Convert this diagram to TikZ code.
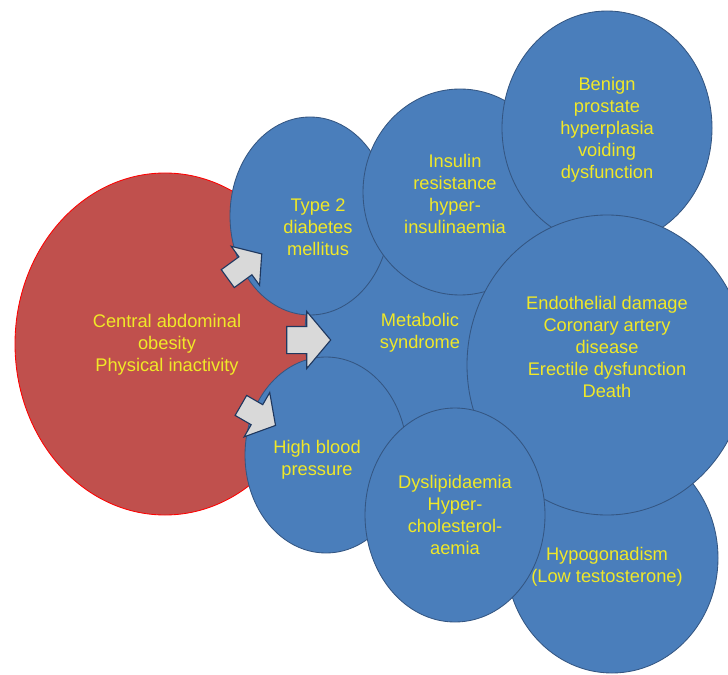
\documentclass[tikz,border=0pt]{standalone}
\usepackage{fontspec}
\setmainfont{Liberation Sans}
\usetikzlibrary{shapes.geometric, shapes.arrows}
\definecolor{bubblefill}{RGB}{74,126,187}
\definecolor{bubbleline}{RGB}{52,86,130}
\definecolor{riskfill}{RGB}{192,80,77}
\definecolor{labeltext}{RGB}{240,232,40}
\definecolor{arrowfill}{RGB}{217,217,217}
\definecolor{arrowline}{RGB}{31,56,95}
\newcommand{\px}{0.025cm}
\tikzset{
	bubble/.style 2 args={ellipse, draw=bubbleline, fill=bubblefill, line width=0.6pt, inner sep=0pt, minimum width=#1*\px, minimum height=#2*\px},
	caption/.style={text=labeltext, align=center, font=\fontsize{13}{15.6}\selectfont},
	push/.style n args={3}{single arrow, draw=arrowline, fill=arrowfill, line width=0.8pt, inner xsep=0pt, inner ysep=#2*\px/2, single arrow tip angle=100, minimum height=#1*\px, single arrow head extend=#3*\px}
}
\begin{document}
\begin{tikzpicture}[x=\px, y=-\px]
	\useasboundingbox (0,0) rectangle (728,675);
	% Risk factors
	\node[ellipse, draw=red, fill=riskfill, line width=0.6pt, inner sep=0pt, minimum width=300*\px, minimum height=342*\px] (risk) at (165,344) {};
	% Bubbles, back to front
	\node[bubble={250}{300}] (metab) at (430,335) {};
	\node[bubble={160}{198}] (diab) at (310,216) {};
	\node[bubble={162}{196}] (bp) at (326,455) {};
	\node[bubble={194}{206}] (insulin) at (460,192) {};
	\node[bubble={210}{234}] (bph) at (607,128) {};
	\node[bubble={212}{230}] (hypo) at (612,558) {};
	\node[bubble={280}{300}] (endo) at (607,365) {};
	\node[bubble={180}{214}] (lipid) at (455,515) {};
	% Texts
	\node[caption] (riskText) at (167,345) {Central abdominal\\obesity\\Physical inactivity};
	\node[caption] (metabText) at (420,333) {Metabolic\\syndrome};
	\node[caption] (diabText) at (318,227) {Type 2\\diabetes\\mellitus};
	\node[caption] (bpText) at (317,460) {High blood\\pressure};
	\node[caption] (insulinText) at (455,194) {Insulin\\resistance\\hyper-\\insulinaemia};
	\node[caption] (bphText) at (607,130) {Benign\\prostate\\hyperplasia\\voiding\\dysfunction};
	\node[caption] (endoText) at (607,347) {Endothelial damage\\Coronary artery\\disease\\Erectile dysfunction\\Death};
	\node[caption] (lipidText) at (455,515) {Dyslipidaemia\\Hyper-\\cholesterol-\\aemia};
	\node[caption] (hypoText) at (607,567) {Hypogonadism\\(Low testosterone)};
	% Arrows
	\node[push={42}{21}{13}, rotate=36] (toDiab) at (241,269) {};
	\node[push={44}{26}{15}] (toMetab) at (303,340) {};
	\node[push={40}{22}{14}, rotate=-30] (toBp) at (254,413) {};
\end{tikzpicture}
\end{document}
